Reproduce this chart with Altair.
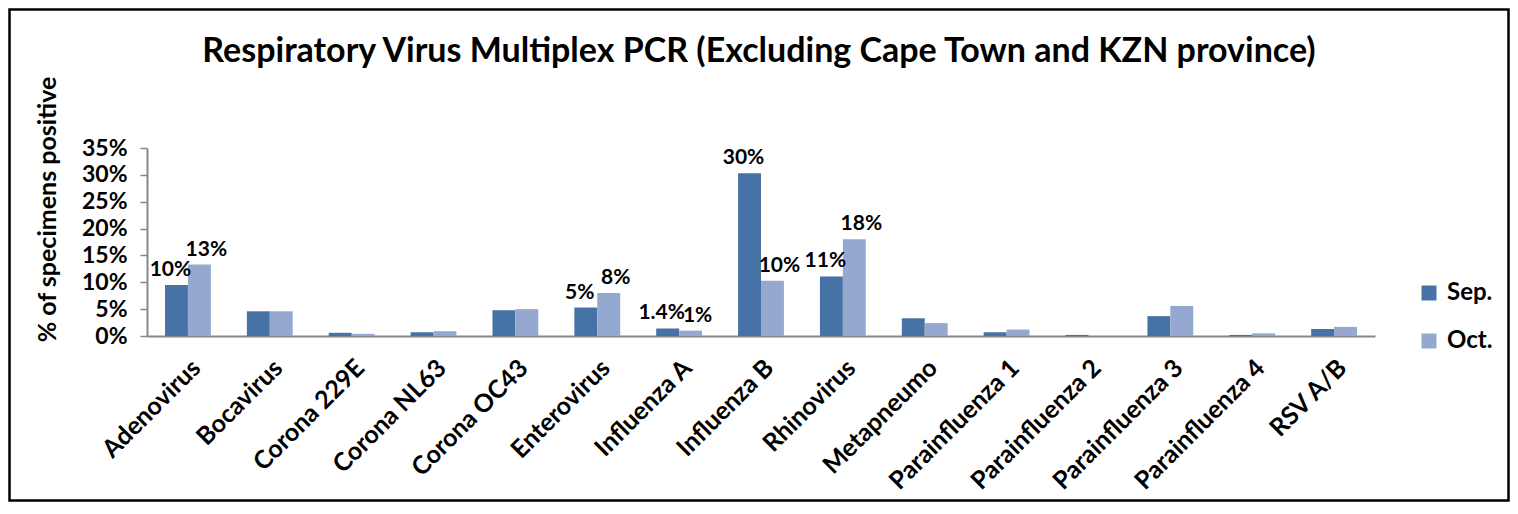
import altair as alt
import pandas as pd

title_text = "Respiratory Virus Multiplex PCR (Excluding Cape Town and KZN province)"
viruses = ["Adenovirus", "Bocavirus", "Corona 229E", "Corona NL63", "Corona OC43",
           "Enterovirus", "Influenza A", "Influenza B", "Rhinovirus", "Metapneumo",
           "Parainfluenza 1", "Parainfluenza 2", "Parainfluenza 3", "Parainfluenza 4", "RSV A/B"]
sep_values = [9.5, 4.6, 0.6, 0.7, 4.8, 5.3, 1.4, 30.3, 11.1, 3.3, 0.7, 0.2, 3.7, 0.2, 1.3]
oct_values = [13.3, 4.6, 0.4, 0.9, 5.0, 8.0, 1.0, 10.3, 18.0, 2.4, 1.2, 0.0, 5.6, 0.5, 1.7]
sep_labels = ["10%", "", "", "", "", "5%", "1.4%", "30%", "11%", "", "", "", "", "", ""]
oct_labels = ["13%", "", "", "", "", "8%", "1%", "10%", "18%", "", "", "", "", "", ""]
months = ["Sep.", "Oct."]
colors = ["#4672A6", "#95A9D0"]
y_ticks = [0, 0.05, 0.10, 0.15, 0.20, 0.25, 0.30, 0.35]

rows = []
for i, v in enumerate(viruses):
    rows.append({"virus": v, "month": months[0], "value": sep_values[i] / 100, "label": sep_labels[i]})
    rows.append({"virus": v, "month": months[1], "value": oct_values[i] / 100, "label": oct_labels[i]})
df = pd.DataFrame(rows)

FONT = "Lato"
W, H = 1228, 188
PL, PT, PR, PB = 139, 140, 135, 166

x_enc = alt.X("virus:N", sort=viruses, title=None,
              scale=alt.Scale(paddingInner=0.44, paddingOuter=0.22),
              axis=alt.Axis(labelAngle=-45, ticks=False, domainColor="#888888", domainWidth=2,
                            labelFont=FONT, labelFontWeight="bold", labelFontSize=25,
                            labelColor="black", labelPadding=19, labelOverlap=False))
y_enc = alt.Y("value:Q", title="% of specimens positive",
              scale=alt.Scale(domain=[0, 0.35], nice=False),
              axis=alt.Axis(values=y_ticks, format=".0%", grid=False, domainColor="#888888",
                            domainWidth=2, tickColor="#888888", tickWidth=1.5, tickSize=7,
                            labelFont=FONT, labelFontWeight="bold", labelFontSize=23,
                            labelColor="black", labelPadding=13, labelOverlap=False,
                            titleFont=FONT, titleFontWeight="bold", titleFontSize=25,
                            titleColor="black", titleAngle=270, titleX=-100, titleY=61,
                            titleAlign="center", titleBaseline="middle"))
x_off = alt.XOffset("month:N", sort=months)
color_enc = alt.Color("month:N", sort=months,
                      scale=alt.Scale(domain=months, range=colors),
                      legend=alt.Legend(title=None, orient="none", legendX=1270, legendY=133,
                                        symbolType="square", symbolSize=225, symbolStrokeWidth=0,
                                        labelFont=FONT, labelFontWeight="bold", labelFontSize=24,
                                        labelColor="black", rowPadding=24, labelOffset=6))

base = alt.Chart(df)
bars = base.mark_bar().encode(x=x_enc, y=y_enc, color=color_enc, xOffset=x_off)
label_style = dict(baseline="bottom", dy=-5, font=FONT, fontWeight="bold", fontSize=21, color="black")
sep_text = base.transform_filter(alt.datum.month == months[0]).mark_text(dx=-6, **label_style).encode(
    x=x_enc, y=y_enc, xOffset=x_off, text="label:N",
)
oct_text = base.transform_filter(alt.datum.month == months[1]).mark_text(dx=7, **label_style).encode(
    x=x_enc, y=y_enc, xOffset=x_off, text="label:N",
)
one = pd.DataFrame({"t": [title_text]})
title = alt.Chart(one).mark_text(font=FONT, fontWeight="bold", fontSize=34, color="black",
                                 align="center", baseline="alphabetic").encode(
    x=alt.value(W / 2 - 2), y=alt.value(-86), text="t:N",
)
border = alt.Chart(one).mark_rect(filled=False, stroke="black", strokeWidth=2.5).encode(
    x=alt.value(-PL + 1.5), x2=alt.value(W + PR - 1.5),
    y=alt.value(-PT + 1.5), y2=alt.value(H + PB - 1.5),
)

chart = alt.layer(bars, sep_text, oct_text, title, border).properties(
    width=W, height=H,
    padding={"left": PL, "top": PT, "right": PR, "bottom": PB},
    autosize=alt.AutoSizeParams(type="none"),
).configure_view(stroke=None)

chart.save("out.html", embed_options={"renderer": "svg", "actions": False})
